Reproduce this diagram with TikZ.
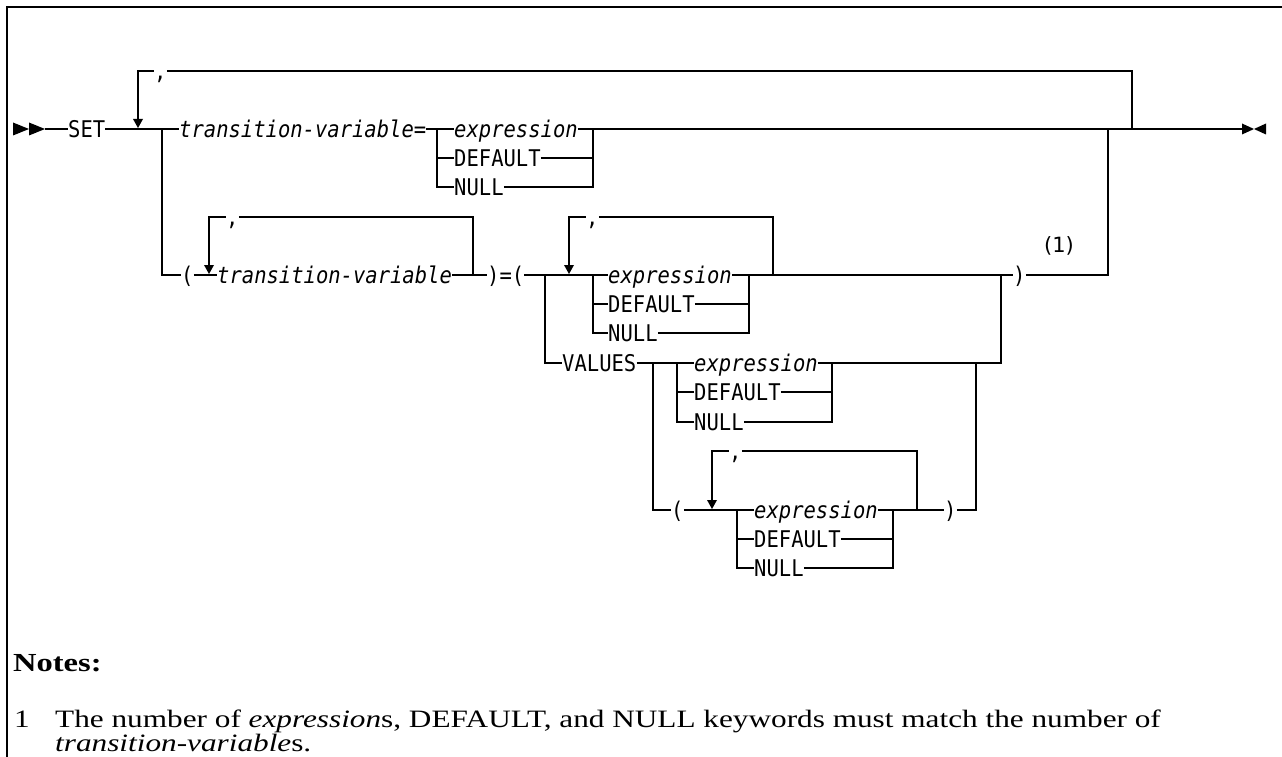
\documentclass[tikz,border=0pt]{standalone}
\usepackage{fontspec}
\newfontfamily\synfont[FakeStretch=0.892]{DejaVu Sans Mono}
\newfontfamily\notefont[FakeStretch=1.25]{Liberation Serif}
\newfontfamily\markfont{DejaVu Sans}
\begin{document}
\begin{tikzpicture}[x=1pt,y=-1pt,
  rr/.style={line width=1.2pt, line join=miter},
  kw/.style={font={\fontsize{23}{25}\synfont}, inner sep=0pt, text height=16.5pt, text depth=0pt, anchor=west},
  var/.style={kw, font={\fontsize{23}{25}\synfont\itshape}},
  notetxt/.style={font={\fontsize{25}{27}\notefont}, inner sep=0pt, anchor=base west},
  notehead/.style={font={\fontsize{26}{28}\notefont\bfseries}, inner sep=0pt, anchor=base west},
  fnmark/.style={font={\fontsize{21}{23}\markfont}, inner sep=0pt},
  downarrow/.pic={\fill (-5,-9) -- (5,-9) -- (0,0) -- cycle;},
  frame/.style={line width=2pt}]
\useasboundingbox (0,0) rectangle (1282,757);
% frame
\draw[frame] (7,757) -- (7,7) -- (1282,7);

% start and end markers
\fill (13,122.5) -- (29,129) -- (13,135.5) -- cycle;
\fill (29,122.5) -- (45,129) -- (29,135.5) -- cycle;
\coordinate (start) at (45,129);
\coordinate (endtip) at (1242,129);
\fill (1242,123.5) -- (1254,129) -- (1242,134.5) -- cycle;
\fill (1266,123.5) -- (1254,129) -- (1266,134.5) -- cycle;

% ---------- nodes ----------
\node[kw]  (set) at (68,129) {SET};
\node[kw]  (c1)  at (154,71) {,};
\node[var] (tv1) at (179,129) {transition-variable\upshape=};
\node[var] (e1)  at (454,129) {expression};
\node[kw]  (d1)  at (454,158) {DEFAULT};
\node[kw]  (n1)  at (454,187) {NULL};

\node[kw]  (lp2) at (181,275) {(};
\node[kw]  (c2)  at (226,217) {,};
\node[var] (tv2) at (217,275) {transition-variable};
\node[kw]  (rp2) at (487,275) {)=(};
\node[kw]  (c3)  at (586,217) {,};
\node[var] (e2)  at (608,275) {expression};
\node[kw]  (d2)  at (608,304) {DEFAULT};
\node[kw]  (n2)  at (608,333) {NULL};
\node[kw]  (rp3) at (1013,275) {)};
\node[fnmark] (fn) at (1059,246) {(1)};

\node[kw]  (val) at (562,363) {VALUES};
\node[var] (e3)  at (694,363) {expression};
\node[kw]  (d3)  at (694,392) {DEFAULT};
\node[kw]  (n3)  at (694,422) {NULL};

\node[kw]  (lp4) at (671,510) {(};
\node[kw]  (c4)  at (729,451) {,};
\node[var] (e4)  at (754,510) {expression};
\node[kw]  (d4)  at (754,539) {DEFAULT};
\node[kw]  (n4)  at (754,568) {NULL};
\node[kw]  (rp4) at (944,510) {)};

% ---------- connectors ----------
% main line
\draw[rr] (start) -- (set.west);
\draw[rr] (set.east) -- (tv1.west);
\draw[rr] (tv1.east) -- (e1.west);
\draw[rr] (e1.east) -- (endtip);
\draw[line width=2.4pt] (1138,129) -- (1162,129);
% repeat loop 1
\pic at (138,128) {downarrow};
\draw[rr] (138,119) |- (c1.west);
\draw[rr] (c1.east) -| (1132,129);
% choice group 1
\draw[rr] (437,129) |- (d1.west);
\draw[rr] (437,129) |- (n1.west);
\draw[rr] (d1.east) -| (593,129);
\draw[rr] (n1.east) -| (593,129);

% second alternative
\draw[rr] (162,129) |- (lp2.west);
\draw[rr] (lp2.east) -- (tv2.west);
\pic at (209,274) {downarrow};
\draw[rr] (209,265) |- (c2.west);
\draw[rr] (c2.east) -| (473,275);
\draw[rr] (tv2.east) -- (rp2.west);
\draw[rr] (rp2.east) -- (e2.west);
\pic at (569,274) {downarrow};
\draw[rr] (569,265) |- (c3.west);
\draw[rr] (c3.east) -| (773,275);
\draw[rr] (593,275) |- (d2.west);
\draw[rr] (593,275) |- (n2.west);
\draw[rr] (d2.east) -| (749,275);
\draw[rr] (n2.east) -| (749,275);
\draw[rr] (e2.east) -- (rp3.west);
\draw[rr] (rp3.east) -| (1108,129);

% VALUES branch
\draw[rr] (545,275) |- (val.west);
\draw[rr] (val.east) -- (e3.west);
\draw[rr] (677,363) |- (d3.west);
\draw[rr] (677,363) |- (n3.west);
\draw[rr] (d3.east) -| (832,363);
\draw[rr] (n3.east) -| (832,363);
\draw[rr] (e3.east) -| (1001,275);

% parenthesised VALUES list
\draw[rr] (653,363) |- (lp4.west);
\draw[rr] (lp4.east) -- (e4.west);
\pic at (712,509) {downarrow};
\draw[rr] (712,500) |- (c4.west);
\draw[rr] (c4.east) -| (917,510);
\draw[rr] (737,510) |- (d4.west);
\draw[rr] (737,510) |- (n4.west);
\draw[rr] (d4.east) -| (893,510);
\draw[rr] (n4.east) -| (893,510);
\draw[rr] (e4.east) -- (rp4.west);
\draw[rr] (rp4.east) -| (976,363);

% ---------- notes ----------
\node[notehead] (notes) at (13,671) {Notes:};
\node[notetxt] (num) at (14,727) {1};
\node[notetxt] (l1) at (55,727) {The number of \textit{expression}s, DEFAULT, and NULL keywords must match the number of};
\node[notetxt] (l2) at (55,751) {\textit{transition-variable}s.};
\end{tikzpicture}
\end{document}
